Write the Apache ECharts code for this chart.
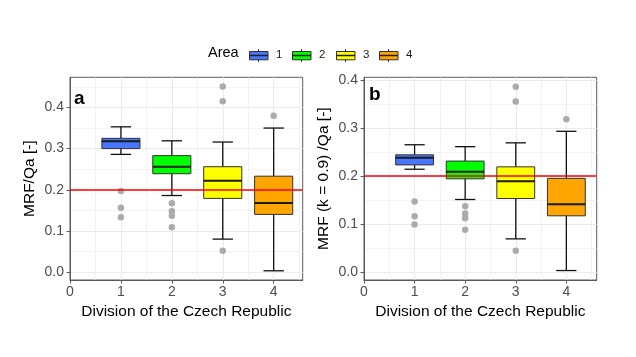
<!DOCTYPE html>
<html><head><meta charset="utf-8">
<script src="https://cdn.jsdelivr.net/npm/echarts@6/dist/echarts.min.js"></script>
<style>html,body{margin:0;padding:0;background:#fff}#c{width:636px;height:357px}</style>
</head><body><div id="c"></div>
<script>
// ---- data ----
const areas = ['1', '2', '3', '4'];
const areaX = [1, 2, 3, 4];
const areaColors = ['#4876FF', '#00FF00', '#FFFF00', '#FFA500'];

// panel a: MRF/Qa
const aMin = [0.286, 0.186, 0.080, 0.003];
const aQ1  = [0.300, 0.239, 0.179, 0.140];
const aMed = [0.318, 0.256, 0.222, 0.168];
const aQ3  = [0.325, 0.283, 0.256, 0.233];
const aMax = [0.353, 0.319, 0.316, 0.350];
const aOutX = [1, 1, 1, 2, 2, 2, 2, 3, 3, 3, 4];
const aOutY = [0.197, 0.156, 0.133, 0.167, 0.148, 0.137, 0.109, 0.451, 0.415, 0.052, 0.380];

// panel b: MRF (k = 0.9) /Qa
const bMin = [0.214, 0.151, 0.069, 0.003];
const bQ1  = [0.223, 0.194, 0.153, 0.117];
const bMed = [0.238, 0.209, 0.189, 0.141];
const bQ3  = [0.244, 0.231, 0.219, 0.195];
const bMax = [0.265, 0.261, 0.269, 0.293];
const bOutX = [1, 1, 1, 2, 2, 2, 2, 3, 3, 3, 4];
const bOutY = [0.147, 0.116, 0.099, 0.137, 0.122, 0.112, 0.088, 0.386, 0.355, 0.044, 0.318];

const threshold = 0.2;
const xTicks = [0, 1, 2, 3, 4];
const xMinor = [0.5, 1.5, 2.5, 3.5, 4.5];
const aYTicks = [0, 0.1, 0.2, 0.3, 0.4];
const aYMinor = [0.05, 0.15, 0.25, 0.35, 0.45];
const bYTicks = [0, 0.1, 0.2, 0.3, 0.4];
const bYMinor = [0.05, 0.15, 0.25, 0.35];
const xTitle = 'Division of the Czech Republic';
const aYTitle = 'MRF/Qa [-]';
const bYTitle = 'MRF (k = 0.9) /Qa [-]';
const legendTitle = 'Area';
const panelTags = ['a', 'b'];

// ---- chart ----
const FONT = '"Liberation Sans", Arial, sans-serif';
const BORDER = '#5a5a5a';
const GRIDC = '#EBEBEB';

function rows(mn, q1, md, q3, mx) {
  return areaX.map((x, i) => [x, mn[i], q1[i], md[i], q3[i], mx[i], i]);
}
function pts(xs, ys) { return xs.map((x, i) => [x, ys[i]]); }

function boxRender(params, api) {
  const x = api.value(0);
  const vmin = api.value(1), q1 = api.value(2), med = api.value(3), q3 = api.value(4), vmax = api.value(5);
  const ci = api.value(6);
  const hw = 0.374, cw = 0.2;
  const pMin = api.coord([x, vmin]), pMax = api.coord([x, vmax]);
  const pA = api.coord([x - hw, q3]), pB = api.coord([x + hw, q1]);
  const mL = api.coord([x - hw, med]), mR = api.coord([x + hw, med]);
  const cL1 = api.coord([x - cw, vmax]), cR1 = api.coord([x + cw, vmax]);
  const cL2 = api.coord([x - cw, vmin]), cR2 = api.coord([x + cw, vmin]);
  const ws = { stroke: '#111', lineWidth: 1.3 };
  return {
    type: 'group',
    children: [
      { type: 'line', shape: { x1: pMin[0], y1: pMin[1], x2: pMax[0], y2: pMax[1] }, style: ws },
      { type: 'line', shape: { x1: cL1[0], y1: cL1[1], x2: cR1[0], y2: cR1[1] }, style: ws },
      { type: 'line', shape: { x1: cL2[0], y1: cL2[1], x2: cR2[0], y2: cR2[1] }, style: ws },
      { type: 'rect', shape: { x: pA[0], y: pA[1], width: pB[0] - pA[0], height: pB[1] - pA[1] },
        style: { fill: areaColors[ci], stroke: '#333', lineWidth: 1 } },
      { type: 'line', shape: { x1: mL[0], y1: mL[1], x2: mR[0], y2: mR[1] }, style: { stroke: '#1a1a1a', lineWidth: 2 } }
    ]
  };
}

function mainX(g, max) {
  return {
    type: 'value', gridIndex: g, min: 0, max: max,
    name: xTitle, nameLocation: 'middle', nameGap: 23,
    nameTextStyle: { fontSize: 15.5, color: '#000', fontFamily: FONT },
    axisLine: { show: true, onZero: false, lineStyle: { color: BORDER, width: 1 } },
    axisTick: { show: true, customValues: xTicks, length: 3.5, lineStyle: { color: BORDER } },
    axisLabel: { customValues: xTicks, fontSize: 14, color: '#4D4D4D', margin: 5, fontFamily: FONT, formatter: v => String(v) },
    splitLine: { show: true, lineStyle: { color: GRIDC, width: 1 } }
  };
}
function minorX(g, max) {
  return {
    type: 'value', gridIndex: g, min: 0, max: max, position: 'bottom',
    axisLine: { show: false, onZero: false }, axisTick: { show: false, customValues: xMinor },
    axisLabel: { show: false, customValues: xMinor },
    splitLine: { show: true, lineStyle: { color: GRIDC, width: 0.6 } }
  };
}
function mainY(g, min, max, ticks, title) {
  return {
    type: 'value', gridIndex: g, min: min, max: max,
    name: title, nameLocation: 'middle', nameGap: 32,
    nameTextStyle: { fontSize: 15.5, color: '#000', fontFamily: FONT },
    axisLine: { show: true, onZero: false, lineStyle: { color: BORDER, width: 1 } },
    axisTick: { show: true, customValues: ticks, length: 3.5, lineStyle: { color: BORDER } },
    axisLabel: { customValues: ticks, fontSize: 14, color: '#4D4D4D', margin: 6, fontFamily: FONT, formatter: v => v.toFixed(1) },
    splitLine: { show: true, lineStyle: { color: GRIDC, width: 1 } }
  };
}
function minorY(g, min, max, ticks) {
  return {
    type: 'value', gridIndex: g, min: min, max: max, position: 'left',
    axisLine: { show: false, onZero: false }, axisTick: { show: false, customValues: ticks },
    axisLabel: { show: false, customValues: ticks },
    splitLine: { show: true, lineStyle: { color: GRIDC, width: 0.6 } }
  };
}

function panelSeries(xi, rowsData, outData) {
  return [
    {
      type: 'custom', xAxisIndex: xi, yAxisIndex: xi, renderItem: boxRender, clip: false, z: 3,
      encode: { x: 0, y: [1, 2, 3, 4, 5] }, data: rowsData, silent: true
    },
    {
      type: 'scatter', xAxisIndex: xi, yAxisIndex: xi, data: outData, symbolSize: 6.5, z: 4,
      itemStyle: { color: '#ABABAB', opacity: 1 }, silent: true,
      markLine: {
        silent: true, symbol: 'none', label: { show: false }, z: 6,
        lineStyle: { color: '#FF0000', width: 1.6, type: 'solid' },
        data: [{ yAxis: threshold }]
      }
    }
  ];
}

// legend graphic
const legendItems = [];
legendItems.push({ type: 'text', left: 208, top: 45, style: { text: legendTitle, fontSize: 14.5, fill: '#000', fontFamily: FONT } });
const keyX0 = [247, 290, 334, 377];
areas.forEach((a, i) => {
  const kx = keyX0[i];
  legendItems.push({
    type: 'group', left: kx, top: 47,
    children: [
      { type: 'line', shape: { x1: 9.5, y1: 0, x2: 9.5, y2: 12 }, style: { stroke: '#222', lineWidth: 1 } },
      { type: 'rect', shape: { x: 0.5, y: 2, width: 18.5, height: 8.3 }, style: { fill: areaColors[i], stroke: '#333', lineWidth: 1 } },
      { type: 'line', shape: { x1: 0.5, y1: 6, x2: 19, y2: 6 }, style: { stroke: '#222', lineWidth: 1.5 } },
      { type: 'line', shape: { x1: 9.5, y1: 0, x2: 9.5, y2: 2 }, style: { stroke: '#222', lineWidth: 1 } },
      { type: 'line', shape: { x1: 9.5, y1: 10.3, x2: 9.5, y2: 12 }, style: { stroke: '#222', lineWidth: 1 } }
    ]
  });
  legendItems.push({ type: 'text', left: kx + 29, top: 48.5, style: { text: a, fontSize: 11.5, fill: '#1a1a1a', fontFamily: FONT } });
});
legendItems.push({ type: 'text', left: 74, top: 89, z: 10, style: { text: panelTags[0], fontSize: 19, fontWeight: 'bold', fill: '#000', fontFamily: FONT } });
legendItems.push({ type: 'text', left: 369, top: 85, z: 10, style: { text: panelTags[1], fontSize: 19, fontWeight: 'bold', fill: '#000', fontFamily: FONT } });

const chart = echarts.init(document.getElementById('c'), null, { renderer: 'canvas' });
chart.setOption({
  animation: false,
  backgroundColor: '#fff',
  grid: [
    { left: 70, top: 77.3, width: 232.7, height: 202.7, show: true, borderColor: BORDER, borderWidth: 1, backgroundColor: '#fff', containLabel: false },
    { left: 364, top: 77.3, width: 232.7, height: 202.7, show: true, borderColor: BORDER, borderWidth: 1, backgroundColor: '#fff', containLabel: false }
  ],
  xAxis: [mainX(0, 4.57), minorX(0, 4.57), mainX(1, 4.6), minorX(1, 4.6)],
  yAxis: [
    mainY(0, -0.0194, 0.4734, aYTicks, aYTitle), minorY(0, -0.0194, 0.4734, aYMinor),
    mainY(1, -0.0167, 0.4055, bYTicks, bYTitle), minorY(1, -0.0167, 0.4055, bYMinor)
  ],
  series: [
    ...panelSeries(0, rows(aMin, aQ1, aMed, aQ3, aMax), pts(aOutX, aOutY)),
    ...panelSeries(2, rows(bMin, bQ1, bMed, bQ3, bMax), pts(bOutX, bOutY))
  ],
  graphic: legendItems
});
</script></body></html>
